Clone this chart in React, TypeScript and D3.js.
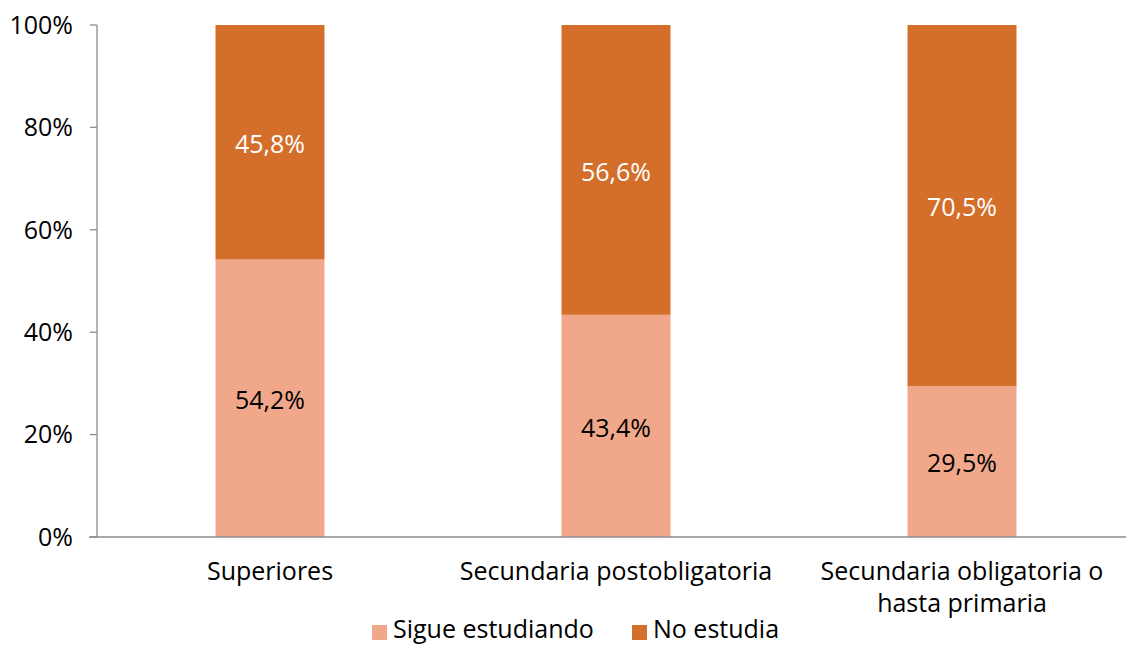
import React from 'react';
import * as d3 from 'd3';

const categories = [
  ['Superiores'],
  ['Secundaria postobligatoria'],
  ['Secundaria obligatoria o', 'hasta primaria'],
];
const sigueEstudiando = [54.2, 43.4, 29.5];
const noEstudia = [45.8, 56.6, 70.5];
const yTicks = [0, 20, 40, 60, 80, 100];

const seriesNames = ['Sigue estudiando', 'No estudia'];
const colors = ['#F1A88A', '#D46E2B'];
const labelColors = ['#000', '#fff'];

const W = 1126;
const H = 645;
const font = '"Open Sans", "Noto Sans", sans-serif';
const fs = 25;

const fmt = (v: number) => v.toFixed(1).replace('.', ',') + '%';

export default function App() {
  const x = d3
    .scaleBand<number>()
    .domain(d3.range(categories.length))
    .range([97, 1135])
    .paddingInner(0.685)
    .paddingOuter(0.3425);

  const y = d3.scaleLinear().domain([0, 100]).range([537, 25]);

  const rows = categories.map((_, i) => ({
    i,
    sigue: sigueEstudiando[i],
    no: noEstudia[i],
  }));
  const stack = d3.stack<any>().keys(['sigue', 'no'])(rows);

  return (
    <svg
      width={W}
      height={H}
      style={{position: 'absolute', left: 0, top: 0}}
      fontFamily={font}>
      {stack.map((layer, si) => (
        <g key={si}>
          {layer.map((d, i) => (
            <g key={i}>
              <rect
                x={x(i)}
                y={y(d[1])}
                width={x.bandwidth()}
                height={y(d[0]) - y(d[1])}
                fill={colors[si]}
              />
              <text
                x={(x(i) as number) + x.bandwidth() / 2}
                y={(y(d[0]) + y(d[1])) / 2 + 2}
                dy="0.35em"
                textAnchor="middle"
                fontSize={fs}
                fill={labelColors[si]}>
                {fmt(d[1] - d[0])}
              </text>
            </g>
          ))}
        </g>
      ))}

      {/* y axis */}
      <line x1={97} x2={97} y1={y(100)} y2={y(0)} stroke="#8c8c8c" strokeWidth={1.3} />
      {yTicks.map(t => (
        <g key={t}>
          <line x1={90} x2={97} y1={y(t)} y2={y(t)} stroke="#8c8c8c" strokeWidth={1.3} />
          <text
            x={73}
            y={y(t)}
            dy="0.35em"
            textAnchor="end"
            fontSize={fs}
            fill="#000">
            {t}%
          </text>
        </g>
      ))}

      {/* x axis */}
      <line x1={89} x2={W} y1={y(0)} y2={y(0)} stroke="#8c8c8c" strokeWidth={1.3} />
      {categories.map((lines, i) => (
        <text
          key={i}
          x={(x(i) as number) + x.bandwidth() / 2}
          y={580}
          textAnchor="middle"
          fontSize={fs}
          fill="#000">
          {lines.map((l, li) => (
            <tspan key={li} x={(x(i) as number) + x.bandwidth() / 2} dy={li === 0 ? 0 : 32}>
              {l}
            </tspan>
          ))}
        </text>
      ))}

      {/* legend */}
      {seriesNames.map((name, si) => {
        const lx = [372, 632][si];
        return (
          <g key={name}>
            <rect x={lx} y={625} width={15} height={15} fill={colors[si]} />
            <text x={lx + 21} y={638} fontSize={fs} fill="#000">
              {name}
            </text>
          </g>
        );
      })}
    </svg>
  );
}
